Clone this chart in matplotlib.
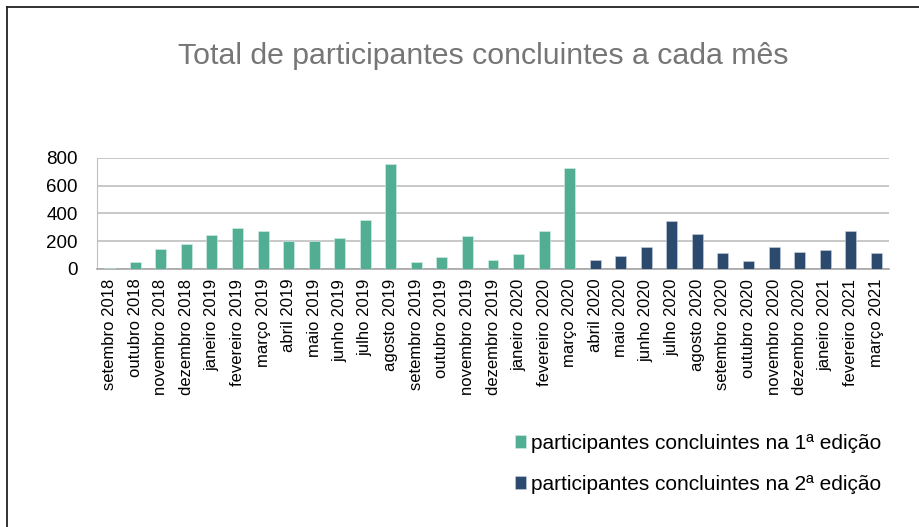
import numpy as np
import matplotlib.pyplot as plt
from matplotlib.lines import Line2D

plt.rcParams['font.family'] = ['Liberation Sans', 'DejaVu Sans']

meses = ['setembro 2018', 'outubro 2018', 'novembro 2018', 'dezembro 2018',
         'janeiro 2019', 'fevereiro 2019', 'março 2019', 'abril 2019',
         'maio 2019', 'junho 2019', 'julho 2019', 'agosto 2019',
         'setembro 2019', 'outubro 2019', 'novembro 2019', 'dezembro 2019',
         'janeiro 2020', 'fevereiro 2020', 'março 2020', 'abril 2020',
         'maio 2020', 'junho 2020', 'julho 2020', 'agosto 2020',
         'setembro 2020', 'outubro 2020', 'novembro 2020', 'dezembro 2020',
         'janeiro 2021', 'fevereiro 2021', 'março 2021']

# 1a edicao: setembro 2018 .. marco 2020
edicao1 = [10, 48, 144, 180, 247, 293, 274, 199, 200, 223, 350, 754,
           48, 86, 238, 62, 110, 274, 727]
# 2a edicao: abril 2020 .. marco 2021
edicao2 = [65, 91, 158, 346, 250, 113, 58, 156, 120, 137, 276, 115]

cor1 = '#51AE93'
cor2 = '#2B4A6E'

x = np.arange(len(meses))
x1 = x[:len(edicao1)]
x2 = x[len(edicao1):]

fig = plt.figure(figsize=(9.19, 5.27), dpi=100)
ax = fig.add_axes([97/919, 1 - 269/527, 792/919, 111/527])

b1 = ax.bar(x1, edicao1, width=0.43, color=cor1, edgecolor='#d8eee7', linewidth=0.4,
            label='participantes concluintes na 1ª edição', zorder=3)
b2 = ax.bar(x2, edicao2, width=0.43, color=cor2, edgecolor='#c9d2dd', linewidth=0.4,
            label='participantes concluintes na 2ª edição', zorder=3)

ax.set_xlim(-0.5, len(meses) - 0.5)
ax.set_ylim(0, 800)
ax.set_yticks([0, 200, 400, 600, 800])
ax.yaxis.grid(True, color='#bfbfbf', linewidth=1.2)
ax.set_axisbelow(True)
for s in ['top', 'right']:
    ax.spines[s].set_visible(False)
ax.spines['left'].set_color('#bfbfbf')
ax.spines['bottom'].set_color('#a6a6a6')
ax.spines['bottom'].set_linewidth(1.2)
ax.tick_params(axis='y', length=0, labelsize=13.5, pad=14)
ax.tick_params(axis='x', length=0, labelsize=12, pad=7)
ax.set_xticks(x)
ax.set_xticklabels(meses, rotation=90)

fig.text(483/919, 1 - 56/527, 'Total de participantes concluintes a cada mês',
         ha='center', va='center', fontsize=21.8, color='#767676')

leg = fig.legend(handles=[b1, b2], loc='upper left',
                 bbox_to_anchor=(496/919, 1 - 415/527), frameon=False,
                 fontsize=15, handlelength=0.55, handleheight=0.55,
                 handletextpad=0.25, labelspacing=1.05)

# moldura (linhas superior e esquerda)
fig.add_artist(Line2D([7/919, 1], [1 - 7/527, 1 - 7/527], color='#222222', linewidth=1.3))
fig.add_artist(Line2D([7/919, 7/919], [0, 1 - 7/527], color='#222222', linewidth=1.3))

fig.savefig('out.png', dpi=100)
